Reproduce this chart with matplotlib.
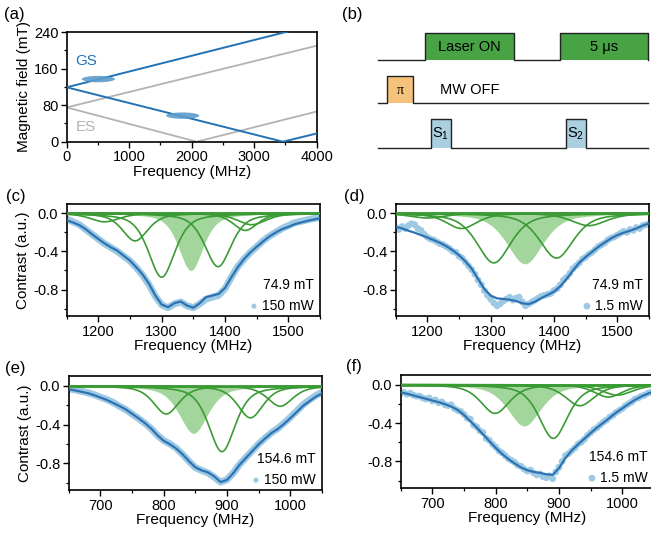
import numpy as np
import matplotlib
matplotlib.use("Agg")
import matplotlib.pyplot as plt
from matplotlib.patches import Ellipse, Rectangle
from matplotlib.ticker import MultipleLocator, FormatStrFormatter

plt.rcParams['font.family'] = ['Liberation Sans', 'DejaVu Sans']
plt.rcParams['axes.unicode_minus'] = False
plt.rcParams['mathtext.fontset'] = 'custom'
plt.rcParams['mathtext.rm'] = 'Liberation Sans'
plt.rcParams['mathtext.it'] = 'Liberation Sans:italic'

# ---------------- data: panel (a) ----------------
gs_up_f = [0, 4000];         gs_up_b = [119, 257]
gs_v_f = [0, 3460, 4000];    gs_v_b = [119, 0, 18]
es_up_f = [0, 4000];         es_up_b = [75, 210]
es_v_f = [0, 2080, 4000];    es_v_b = [75, 0, 66]
ell_f = [507, 1856]; ell_b = [137, 57]; ell_w = [530, 530]; ell_h = [14, 14]

# ---------------- data: panel (b) pulse sequence ----------------
seq_start, seq_end = 378, 648
laser_pulses = [(425, 514), (560, 648)]
mw_pulses = [(387, 413)]
det_pulses = [(431, 451), (566, 586)]

# ---------------- data: panels (c)-(f) ----------------
# pseudo-Voigt components: centre (MHz), depth, FWHM (MHz); first one is shaded
c_cen = [1346, 1300, 1389, 1258, 1432, 1442, 1210]
c_dep = [0.60, 0.67, 0.56, 0.29, 0.18, 0.12, 0.09]
c_fw  = [46, 50, 50, 48, 46, 55, 55]
d_cen = [1354, 1305, 1404, 1254, 1455, 1200]
d_dep = [0.53, 0.52, 0.47, 0.16, 0.13, 0.05]
d_fw  = [68, 64, 64, 58, 66, 66]
e_cen = [847, 892, 804, 937, 984]
e_dep = [0.49, 0.68, 0.29, 0.33, 0.21]
e_fw  = [54, 50, 48, 48, 48]
f_cen = [845, 891, 799, 933, 978, 992]
f_dep = [0.43, 0.56, 0.30, 0.22, 0.13, 0.11]
f_fw  = [62, 54, 54, 54, 54, 58]

# total fit curves (10 MHz steps)
c_fit_x = np.arange(1150, 1551, 10)
c_fit_y = [-0.073, -0.097, -0.125, -0.167, -0.22, -0.27, -0.317, -0.358, -0.393, -0.445,
           -0.497, -0.567, -0.643, -0.74, -0.863, -0.957, -0.984, -0.943, -0.925, -0.967,
           -0.99, -0.943, -0.88, -0.863, -0.845, -0.783, -0.671, -0.567, -0.48, -0.41,
           -0.351, -0.296, -0.243, -0.202, -0.167, -0.143, -0.115, -0.097, -0.08, -0.066, -0.052]
d_fit_x = np.arange(1150, 1551, 10)
d_fit_y = [-0.141, -0.159, -0.183, -0.204, -0.229, -0.254, -0.282, -0.31, -0.345, -0.388,
           -0.44, -0.504, -0.581, -0.687, -0.793, -0.863, -0.892, -0.899, -0.906, -0.92,
           -0.944, -0.952, -0.927, -0.888, -0.856, -0.821, -0.765, -0.687, -0.599, -0.518,
           -0.458, -0.405, -0.352, -0.307, -0.264, -0.229, -0.204, -0.183, -0.159, -0.13, -0.106]
e_fit_x = np.arange(650, 1051, 10)
e_fit_y = [-0.035, -0.046, -0.06, -0.074, -0.095, -0.119, -0.144, -0.175, -0.207, -0.242,
           -0.288, -0.333, -0.382, -0.439, -0.509, -0.568, -0.604, -0.649, -0.709, -0.779,
           -0.842, -0.874, -0.895, -0.937, -0.995, -0.972, -0.902, -0.814, -0.744, -0.674,
           -0.604, -0.544, -0.488, -0.446, -0.393, -0.333, -0.27, -0.207, -0.158, -0.112, -0.077]
f_fit_x = np.arange(650, 1051, 10)
f_fit_y = [-0.081, -0.095, -0.113, -0.13, -0.148, -0.166, -0.183, -0.204, -0.229, -0.264,
           -0.317, -0.381, -0.448, -0.518, -0.589, -0.659, -0.722, -0.775, -0.821, -0.863,
           -0.892, -0.909, -0.92, -0.934, -0.941, -0.87, -0.765, -0.687, -0.624, -0.564,
           -0.504, -0.448, -0.398, -0.345, -0.293, -0.247, -0.201, -0.159, -0.123, -0.095, -0.07]

# measured data
c_dat_x = np.arange(1150, 1551, 10)
c_dat_y = [-0.06, -0.09, -0.12, -0.17, -0.22, -0.27, -0.32, -0.36, -0.40, -0.45,
           -0.50, -0.57, -0.65, -0.75, -0.87, -0.96, -0.99, -0.95, -0.93, -0.97,
           -0.99, -0.95, -0.90, -0.88, -0.86, -0.79, -0.67, -0.56, -0.48, -0.41,
           -0.35, -0.29, -0.24, -0.20, -0.16, -0.13, -0.10, -0.085, -0.07, -0.055, -0.045]
d_dat_x = np.arange(1150, 1551, 5)
d_dat_y = [-0.15, -0.17, -0.14, -0.16, -0.13, -0.11, -0.12, -0.16, -0.18, -0.22,
           -0.25, -0.27, -0.28, -0.30, -0.32, -0.33, -0.35, -0.37, -0.40, -0.41,
           -0.45, -0.47, -0.51, -0.55, -0.59, -0.64, -0.70, -0.75, -0.81, -0.86,
           -0.90, -0.94, -0.97, -0.95, -0.92, -0.90, -0.88, -0.91, -0.89, -0.88,
           -0.93, -0.97, -0.95, -0.93, -0.91, -0.89, -0.87, -0.86, -0.85, -0.84,
           -0.81, -0.79, -0.75, -0.70, -0.67, -0.63, -0.58, -0.55, -0.52, -0.48,
           -0.46, -0.43, -0.41, -0.38, -0.35, -0.33, -0.31, -0.28, -0.26, -0.25,
           -0.23, -0.21, -0.19, -0.20, -0.17, -0.18, -0.15, -0.16, -0.13, -0.12, -0.11]
e_dat_x = np.arange(650, 1051, 10)
e_dat_y = [-0.03, -0.04, -0.055, -0.07, -0.09, -0.115, -0.14, -0.17, -0.21, -0.245,
           -0.29, -0.335, -0.385, -0.44, -0.51, -0.565, -0.60, -0.645, -0.71, -0.78,
           -0.845, -0.875, -0.90, -0.945, -0.995, -0.97, -0.90, -0.81, -0.74, -0.67,
           -0.60, -0.54, -0.485, -0.44, -0.385, -0.325, -0.26, -0.195, -0.145, -0.10, -0.065]
f_dat_x = np.arange(650, 1051, 5)
f_dat_y = [-0.09, -0.08, -0.10, -0.09, -0.11, -0.12, -0.12, -0.14, -0.15, -0.14,
           -0.17, -0.16, -0.19, -0.18, -0.21, -0.22, -0.21, -0.25, -0.27, -0.28,
           -0.31, -0.35, -0.36, -0.42, -0.44, -0.48, -0.50, -0.56, -0.58, -0.62,
           -0.65, -0.69, -0.71, -0.74, -0.77, -0.79, -0.81, -0.84, -0.85, -0.88,
           -0.90, -0.89, -0.92, -0.94, -0.93, -0.96, -0.97, -0.95, -0.98, -0.91,
           -0.86, -0.80, -0.74, -0.72, -0.69, -0.66, -0.62, -0.60, -0.57, -0.53,
           -0.50, -0.47, -0.45, -0.42, -0.39, -0.37, -0.34, -0.32, -0.29, -0.27,
           -0.25, -0.22, -0.20, -0.18, -0.15, -0.14, -0.12, -0.11, -0.09, -0.08, -0.07]

fields = ['74.9 mT', '74.9 mT', '154.6 mT', '154.6 mT']
powers = ['150 mW', '1.5 mW', '150 mW', '1.5 mW']

# ---------------- styling ----------------
BLUE_A = '#2272b4'
GRAY_A = '#b3b3b3'
FIT_BLUE = '#2d72b3'
DATA_BLUE = '#9dc9e2'
GREEN = '#3a9b35'
FILL_GREEN = '#a3d69c'

W, H = 651, 534
fig = plt.figure(figsize=(W / 100, H / 100), dpi=100)


def px_axes(l, t, r, b):
    return fig.add_axes([l / W, 1 - b / H, (r - l) / W, (b - t) / H])


def style(ax):
    for s in ax.spines.values():
        s.set_linewidth(1.2)
    ax.tick_params(which='major', length=4, width=1.0, labelsize=10.5, pad=2)
    ax.tick_params(which='minor', length=2, width=0.9)


# ---------------- (a) ----------------
ax = px_axes(66.7, 32, 316.7, 141.7)
ax.plot(gs_up_f, gs_up_b, color=BLUE_A, lw=1.4, zorder=3)
ax.plot(gs_v_f, gs_v_b, color=BLUE_A, lw=1.4, zorder=3)
ax.plot(es_up_f, es_up_b, color=GRAY_A, lw=1.3, zorder=2)
ax.plot(es_v_f, es_v_b, color=GRAY_A, lw=1.3, zorder=2)
for f0, b0, w0, h0 in zip(ell_f, ell_b, ell_w, ell_h):
    ax.add_patch(Ellipse((f0, b0), w0, h0, facecolor='#5b9bcb', edgecolor='none', alpha=0.9, zorder=4))
ax.text(140, 176, 'GS', color=BLUE_A, fontsize=11, va='center', ha='left')
ax.text(140, 32, 'ES', color=GRAY_A, fontsize=11, va='center', ha='left')
ax.set_xlim(0, 4000)
ax.set_ylim(0, 240)
ax.set_xticks([0, 1000, 2000, 3000, 4000])
ax.set_yticks([0, 80, 160, 240])
ax.xaxis.set_minor_locator(MultipleLocator(500))
ax.yaxis.set_minor_locator(MultipleLocator(40))
ax.set_xlabel('Frequency (MHz)', fontsize=11, labelpad=1)
ax.set_ylabel('Magnetic field (mT)', fontsize=11, labelpad=2)
style(ax)

# ---------------- (b) ----------------
axb = fig.add_axes([0, 0, 1, 1], facecolor='none')
axb.set_xlim(0, W)
axb.set_ylim(H, 0)
axb.axis('off')
rows = [(laser_pulses, 60, 33, '#47a343'),
        (mw_pulses, 103, 76, '#f5c27c'),
        (det_pulses, 148, 119, '#a9cfe1')]
for pulses, base, top, col in rows:
    xs = [seq_start]
    ys = [base]
    for (p0, p1) in pulses:
        axb.add_patch(Rectangle((p0, top), p1 - p0, base - top, facecolor=col, edgecolor='none'))
        xs += [p0, p0, p1, p1]
        ys += [base, top, top, base]
    xs.append(seq_end)
    ys.append(base)
    axb.plot(xs, ys, color='#222222', lw=1.0)
axb.text(469.5, 47, 'Laser ON', fontsize=10.5, ha='center', va='center')
axb.text(604, 47, '5 \u03bcs', fontsize=10.5, ha='center', va='center')
axb.text(400, 90, '\u03c0', fontsize=10, ha='center', va='center', family=['Liberation Serif', 'DejaVu Serif'])
axb.text(440, 90, 'MW OFF', fontsize=10.5, ha='left', va='center')
axb.text(441, 134, r'$\mathregular{S_1}$', fontsize=10.5, ha='center', va='center')
axb.text(576, 134, r'$\mathregular{S_2}$', fontsize=10.5, ha='center', va='center')

# ---------------- (c)-(f) ----------------
def pvoigt(x, c, d, w, eta=0.55):
    u = (x - c) / (w / 2.0)
    lor = 1.0 / (1.0 + u ** 2)
    gau = np.exp(-np.log(2) * u ** 2)
    return -d * (eta * lor + (1 - eta) * gau)


panels = [
    ((66.7, 203.7, 320, 316.3), (1150, 1550), c_cen, c_dep, c_fw, c_fit_x, c_fit_y, c_dat_x, c_dat_y, True, True),
    ((395.7, 203.7, 649, 316.3), (1150, 1550), d_cen, d_dep, d_fw, d_fit_x, d_fit_y, d_dat_x, d_dat_y, False, False),
    ((68.7, 376.3, 322, 490.3), (650, 1050), e_cen, e_dep, e_fw, e_fit_x, e_fit_y, e_dat_x, e_dat_y, True, True),
    ((400.7, 375, 654, 488.3), (650, 1050), f_cen, f_dep, f_fw, f_fit_x, f_fit_y, f_dat_x, f_dat_y, False, False),
]
for i, (box, xl, cen, dep, fw, fx, fy, dx, dy, dense, ylab) in enumerate(panels):
    ax = px_axes(*box)
    xx = np.linspace(xl[0], xl[1], 800)
    comp0 = pvoigt(xx, cen[0], dep[0], fw[0])
    ax.fill_between(xx, comp0, 0, color=FILL_GREEN, lw=0, zorder=1)
    for c0, d0, w0 in zip(cen[1:], dep[1:], fw[1:]):
        ax.plot(xx, pvoigt(xx, c0, d0, w0), color=GREEN, lw=1.2, zorder=3)
    ax.axhline(0, color=GREEN, lw=2.0, zorder=3)
    if dense:
        ax.plot(dx, dy, color=DATA_BLUE, lw=5, solid_capstyle='round', zorder=2)
        ax.scatter(dx, dy, s=14, color=DATA_BLUE, edgecolors='none', zorder=2, label=powers[i])
    else:
        ax.scatter(dx, dy, s=24, color=DATA_BLUE, edgecolors='none', zorder=2, label=powers[i])
    ax.plot(fx, fy, color=FIT_BLUE, lw=1.6, zorder=4)
    ax.set_xlim(*xl)
    ax.set_ylim(-1.08, 0.1)
    ax.xaxis.set_major_locator(MultipleLocator(100))
    ax.xaxis.set_minor_locator(MultipleLocator(50))
    ax.yaxis.set_major_locator(MultipleLocator(0.4))
    ax.yaxis.set_minor_locator(MultipleLocator(0.2))
    ax.yaxis.set_major_formatter(FormatStrFormatter('%.1f'))
    ax.set_xticks([t for t in ax.get_xticks() if xl[0] < t < xl[1]])
    ax.set_xlabel('Frequency (MHz)', fontsize=11, labelpad=0)
    if ylab:
        ax.set_ylabel('Contrast (a.u.)', fontsize=11, labelpad=2)
    style(ax)
    leg = ax.legend(loc='lower right', bbox_to_anchor=(0.99, 0.0), frameon=False, fontsize=10,
                    title=fields[i], title_fontsize=10, handletextpad=0.1, borderaxespad=0.0,
                    borderpad=0.25, handlelength=1.0, alignment='right', markerscale=1.0)

# panel labels
for lab, x, y in [('(a)', 4, 14), ('(b)', 342, 14), ('(c)', 6, 196), ('(d)', 344, 196),
                  ('(e)', 5, 368), ('(f)', 346, 367)]:
    fig.text(x / W, 1 - y / H, lab, fontsize=12, ha='left', va='center')

fig.savefig('out.png', dpi=100)
